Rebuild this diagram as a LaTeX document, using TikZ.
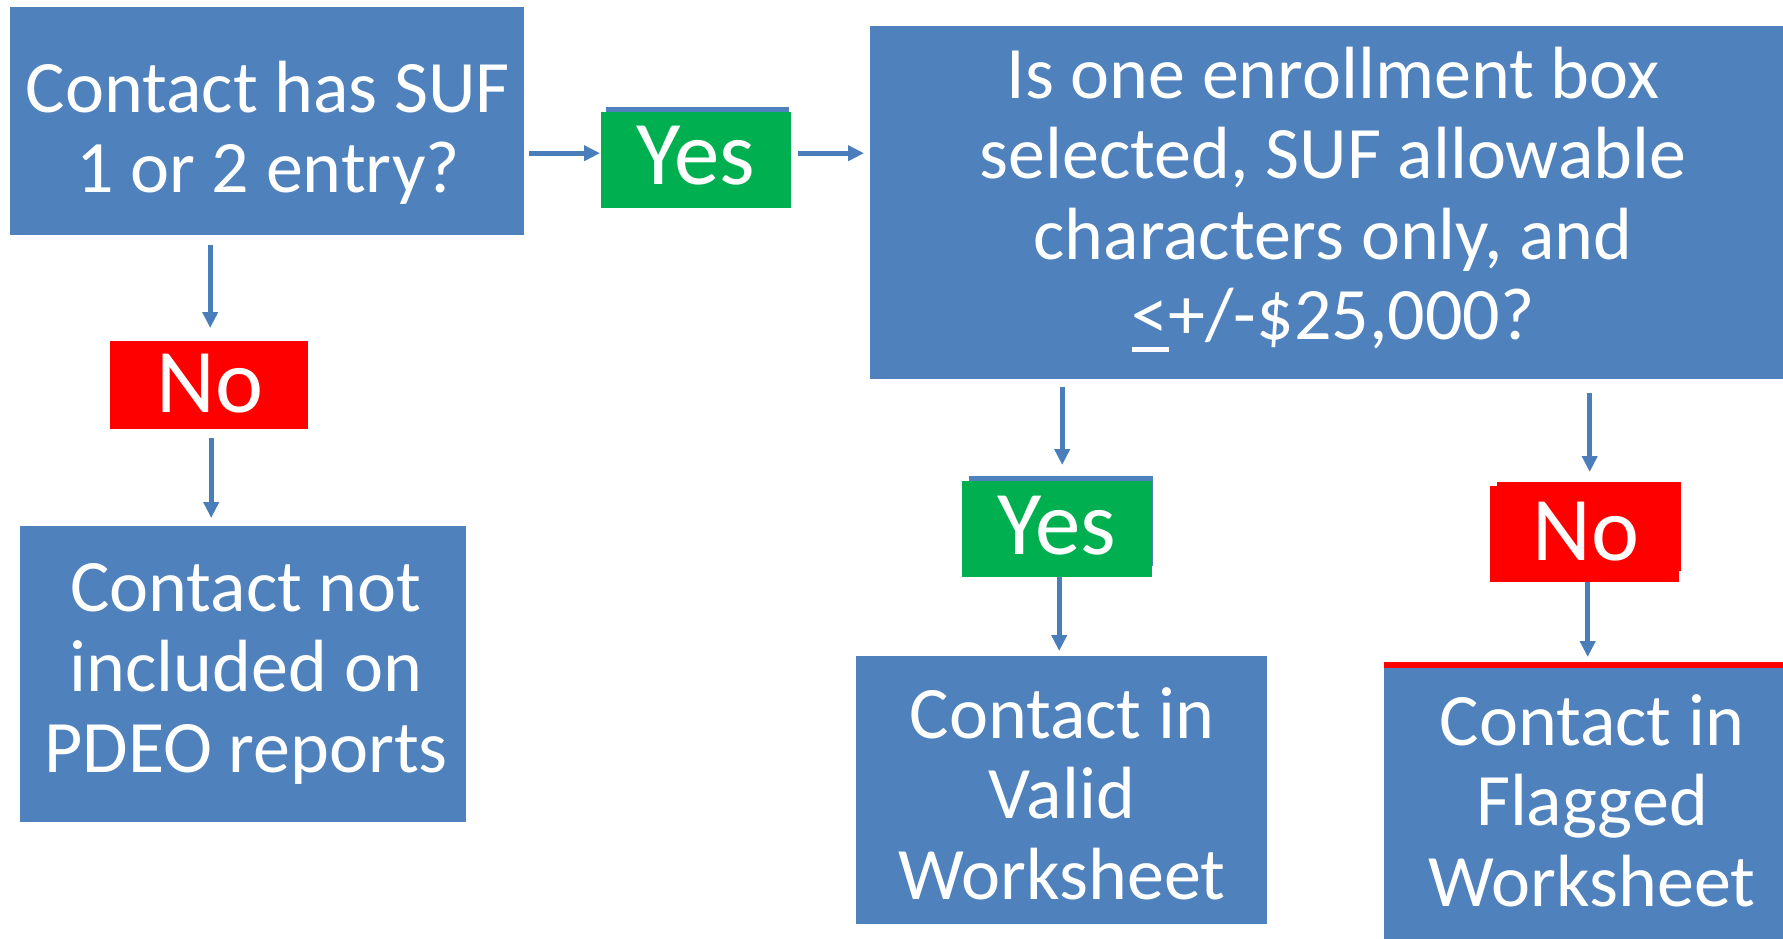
\documentclass[tikz,border=0pt]{standalone}
\usepackage{fontspec}
\setmainfont{Carlito}
\usetikzlibrary{calc,arrows.meta}

\definecolor{boxblue}{HTML}{4F81BD}
\definecolor{arrowblue}{HTML}{4A7EBB}
\definecolor{yesgreen}{HTML}{00B050}
\definecolor{nored}{HTML}{FF0000}

% centred multi-line box text; the node's base is the first line's baseline
\newcommand{\boxtext}[1]{\parbox[t]{900pt}{\centering\fontsize{74}{80.5}\selectfont #1}}
% underlined "<" standing for "less than or equal"
\newcommand{\ltsym}{\makebox[0pt][l]{\rule[-12pt]{0.5em}{5pt}}<}

\tikzset{
  panel/.style={fill=boxblue, draw=none, inner sep=0pt, anchor=north west},
  yesbox/.style={fill=yesgreen, draw=none, inner sep=0pt, anchor=north west},
  nobox/.style={fill=nored, draw=none, inner sep=0pt, anchor=north west},
  boxlabel/.style={text=white, inner sep=0pt, anchor=base},
  answer/.style={text=white, inner sep=0pt, anchor=base, font=\fontsize{91}{91}\selectfont},
  arr/.style={draw=arrowblue, line width=5pt, -{Triangle[length=16pt,width=15pt]}},
}

\begin{document}
\begin{tikzpicture}[x=1pt,y=-1pt]
\useasboundingbox (0,0) rectangle (1783,938);
\clip (0,0) rectangle (1783,938);

% first question
\node[panel, minimum width=514pt, minimum height=228pt] (q1) at (10,7) {};
\node[boxlabel] (q1t) at (268,112) {\boxtext{Contact has SUF\\1 or 2 entry?}};

% "Yes" after the first question
\fill[boxblue] (606,107) rectangle (789,200);
\node[yesbox, minimum width=190pt, minimum height=96pt] (yes1) at (601,112) {};
\node[answer] (yes1t) at (695.5,184) {Yes};

% second question
\node[panel, minimum width=930pt, minimum height=353pt] (q2) at (870,26) {};
\node[boxlabel] (q2t) at (1333,98) {\boxtext{Is one enrollment box\\selected, SUF allowable\\characters only, and\\\ltsym+/-\$25,000?}};

% "No" after the first question
\node[nobox, minimum width=198pt, minimum height=88pt] (no1) at (110,341) {};
\node[answer] (no1t) at (210,412) {No};

% not included
\node[panel, minimum width=446pt, minimum height=296pt] (q3) at (20,526) {};
\node[boxlabel] (q3t) at (246,611) {\boxtext{Contact not\\included on\\PDEO reports}};

% "Yes" after the second question
\fill[boxblue] (969,476) rectangle (1153,566);
\node[yesbox, minimum width=190pt, minimum height=96pt] (yes2) at (962,481) {};
\node[answer] (yes2t) at (1057,554) {Yes};

% valid worksheet
\node[panel, minimum width=411pt, minimum height=268pt] (valid) at (856,656) {};
\node[boxlabel] (validt) at (1062,738) {\boxtext{Contact in\\Valid\\Worksheet}};

% "No" after the second question
\fill[nored] (1497,482) rectangle (1681,571);
\node[nobox, minimum width=189pt, minimum height=96pt] (no2) at (1490,486) {};
\node[answer] (no2t) at (1586,560) {No};

% flagged worksheet
\fill[nored] (1384,662) rectangle (1800,668);
\node[panel, minimum width=416pt, minimum height=280pt] (flag) at (1384,668) {};
\node[boxlabel] (flagt) at (1592,745) {\boxtext{Contact in\\Flagged\\Worksheet}};

% connectors
\draw[arr] ($(q1.east |- yes1.west)+(5,-7)$) -- ($(yes1.west)+(-1,-7)$);
\draw[arr] ($(yes1.east)+(7,-7)$) -- ($(q2.west |- yes1.east)+(-6,-7)$);
\draw[arr] ($(no1.north |- q1.south)+(1,10)$) -- ($(no1.north)+(1,-13)$);
\draw[arr] ($(no1.south)+(2,9)$) -- ($(no1.south |- q3.north)+(2,-8)$);
\draw[arr] ($(yes2.north |- q2.south)+(5,8)$) -- ($(yes2.north)+(5,-16)$);
\draw[arr] ($(yes2.south)+(2,0)$) -- ($(yes2.south |- valid.north)+(2,-5)$);
\draw[arr] ($(no2.north |- q2.south)+(5,14)$) -- ($(no2.north)+(5,-14)$);
\draw[arr] ($(no2.south)+(3,0)$) -- ($(no2.south |- flag.north)+(3,-11)$);
\end{tikzpicture}
\end{document}
